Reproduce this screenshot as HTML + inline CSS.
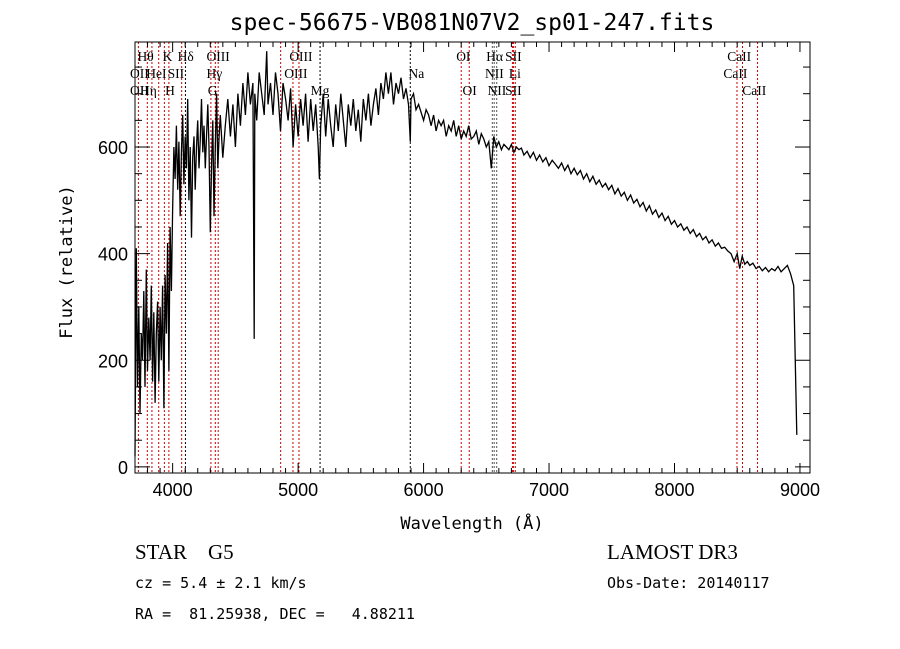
<!DOCTYPE html>
<html><head><meta charset="utf-8"><style>
body{margin:0;background:#fff;}
svg{display:block;}
text{font-family:"Liberation Serif",serif;fill:#000;white-space:pre;}
.mono{font-family:"DejaVu Sans Mono","Liberation Mono",monospace;}
</style></head><body>
<svg id="chart" width="900" height="649" viewBox="0 0 900 649" xmlns="http://www.w3.org/2000/svg" xml:space="preserve">
<rect width="900" height="649" fill="#fff"/>
<text class="mono" x="472" y="30" font-size="23" text-anchor="middle">spec-56675-VB081N07V2_sp01-247.fits</text>
<g id="lines"></g>
<g id="series"></g>
<g id="axes"></g>
<g id="labels" font-size="13.5"></g>
<text class="mono" x="472" y="529" font-size="17" text-anchor="middle">Wavelength (Å)</text>
<text class="mono" transform="translate(72,262) rotate(-90)" font-size="17" text-anchor="middle">Flux (relative)</text>
<text x="135" y="559" font-size="21">STAR    G5</text>
<text x="607" y="559" font-size="21">LAMOST DR3</text>
<text class="mono" x="135" y="588" font-size="15">cz = 5.4 ± 2.1 km/s</text>
<text class="mono" x="607" y="588" font-size="15">Obs-Date: 20140117</text>
<text class="mono" x="135" y="619" font-size="15">RA =  81.25938, DEC =   4.88211</text>
</svg>
<script>
const wavelengths=[3700,3710,3720,3730,3740,3750,3760,3770,3780,3790,3800,3810,3820,3830,3840,3850,3860,3870,3880,3890,3900,3910,3920,3930,3940,3950,3960,3970,3980,3990,4000,4010,4020,4030,4040,4050,4060,4070,4080,4090,4100,4110,4120,4130,4140,4150,4160,4170,4180,4190,4200,4210,4220,4230,4240,4250,4260,4270,4280,4290,4300,4310,4320,4330,4340,4350,4360,4370,4380,4400,4420,4440,4460,4480,4500,4520,4540,4560,4580,4600,4620,4640,4650,4655,4670,4690,4710,4730,4750,4760,4780,4800,4820,4840,4860,4880,4900,4920,4940,4960,4980,5000,5020,5040,5060,5080,5100,5120,5140,5160,5170,5180,5200,5220,5240,5260,5280,5300,5320,5340,5360,5380,5400,5420,5440,5460,5480,5500,5520,5540,5560,5580,5600,5620,5640,5660,5680,5700,5720,5740,5760,5780,5800,5820,5840,5860,5880,5894,5900,5920,5940,5960,6000,6020,6040,6060,6080,6100,6120,6140,6160,6180,6200,6220,6240,6260,6280,6300,6320,6340,6360,6380,6400,6420,6440,6460,6480,6500,6520,6540,6560,6580,6600,6620,6640,6660,6680,6700,6720,6740,6760,6780,6800,6825,6850,6875,6900,6925,6950,6975,7000,7025,7050,7075,7100,7125,7150,7175,7200,7225,7250,7275,7300,7325,7350,7375,7400,7425,7450,7475,7500,7525,7550,7575,7600,7625,7650,7675,7700,7725,7750,7775,7800,7825,7850,7875,7900,7925,7950,7975,8000,8025,8050,8075,8100,8125,8150,8175,8200,8225,8250,8275,8300,8325,8350,8375,8400,8425,8450,8475,8500,8520,8540,8560,8580,8600,8625,8650,8675,8700,8725,8750,8775,8800,8825,8850,8875,8900,8925,8950,8975,8990,9000];
const fluxValues=[20,410,150,300,100,250,200,330,150,370,180,280,200,340,160,290,120,250,310,160,300,200,340,110,360,250,420,180,450,330,480,600,540,640,520,610,470,590,660,530,620,560,690,500,600,430,580,620,520,600,650,560,610,690,590,640,560,620,680,600,440,560,650,470,600,700,560,620,660,580,640,690,620,680,600,700,640,720,660,740,680,720,240,700,650,740,700,660,780,680,720,660,740,700,630,720,690,650,710,600,680,620,690,640,700,610,690,630,680,600,540,640,700,620,690,640,600,680,630,700,650,600,680,640,690,630,670,610,690,650,700,640,680,710,660,720,690,740,700,740,680,720,700,730,690,710,680,610,690,700,670,680,650,670,660,640,660,630,650,640,650,620,640,630,650,620,640,615,630,620,640,615,620,630,605,625,615,600,610,560,620,600,610,595,605,600,595,605,590,600,595,598,585,592,580,590,575,585,572,580,565,575,568,560,570,556,566,550,560,548,556,540,550,535,545,530,538,525,532,520,528,512,522,508,515,500,510,495,502,488,496,480,490,474,482,468,476,462,470,455,462,450,456,444,450,438,445,432,438,426,432,420,426,414,420,410,412,405,400,385,400,372,395,380,385,378,382,372,376,368,374,366,372,368,376,366,372,378,362,340,60];
const lineWaves=[3727,3798,3835,3889,3934,3970,4072,4102,4305,4340,4363,4861,4959,5007,5175,5894,6300,6364,6548,6563,6583,6708,6716,6731,8498,8542,8662];
const lineColors=['#c00','#c00','#c00','#c00','#c00','#c00','#c00','#000','#c00','#c00','#c00','#c00','#c00','#c00','#000','#000','#c00','#c00','#555','#555','#555','#c00','#c00','#c00','#c00','#c00','#c00'];
const xTicks=[4000,5000,6000,7000,8000,9000];
const yTicks=[0,200,400,600];
const lineLabels=[["Hθ",3720,1],["K",3920,1],["Hδ",4040,1],["OIII",4270,1],["OIII",4930,1],["OI",6260,1],["Hα",6500,1],["SII",6650,1],["CaII",8420,1],
["OII",3660,2],["HeI",3790,2],["SII",3960,2],["Hγ",4270,2],["OIII",4890,2],["Na",5880,2],["NII",6490,2],["Li",6680,2],["CaII",8390,2],
["OII",3660,3],["Hη",3740,3],["H",3940,3],["G",4280,3],["Mg",5100,3],["OI",6310,3],["NII",6510,3],["SII",6650,3],["CaII",8540,3]];
const X0=135,X1=810,Y0=42,Y1=473;
const xMin=3700,xMax=9080,yMin=-11.5,yMax=797;
const xs=w=>X0+(w-xMin)/(xMax-xMin)*(X1-X0);
const ys=f=>Y1-(f-yMin)/(yMax-yMin)*(Y1-Y0);
const NS='http://www.w3.org/2000/svg';
function mk(tag,attrs,parent){const e=document.createElementNS(NS,tag);for(const k in attrs)e.setAttribute(k,attrs[k]);parent.appendChild(e);return e;}
const gL=document.getElementById('lines');
lineWaves.forEach((w,i)=>{
 const l=mk('line',{x1:xs(w),x2:xs(w),y1:Y0,y2:Y1,stroke:lineColors[i],'stroke-width':1,'stroke-dasharray':'2,2'},gL);
 
 
});
const gS=document.getElementById('series');
let d='';wavelengths.forEach((w,i)=>{d+=(i?'L':'M')+xs(w).toFixed(1)+','+ys(fluxValues[i]).toFixed(1);});
const p=mk('path',{d:d,fill:'none',stroke:'#000','stroke-width':1.3},gS);


const gA=document.getElementById('axes');
const fr=mk('rect',{x:X0,y:Y0,width:X1-X0,height:Y1-Y0,fill:'none',stroke:'#000','stroke-width':1},gA);


for(let w=3700;w<=9080;w+=100){const big=w%1000===0;const L=big?10:5;
 mk('line',{x1:xs(w),x2:xs(w),y1:Y1,y2:Y1-L,stroke:'#000'},gA);
 mk('line',{x1:xs(w),x2:xs(w),y1:Y0,y2:Y0+L,stroke:'#000'},gA);}
for(let f=0;f<=797;f+=50){const big=f%200===0;const L=big?15:7;
 mk('line',{x1:X0,x2:X0+L,y1:ys(f),y2:ys(f),stroke:'#000'},gA);
 mk('line',{x1:X1,x2:X1-L,y1:ys(f),y2:ys(f),stroke:'#000'},gA);}
xTicks.forEach(v=>{const t=mk('text',{x:xs(v),y:Y1+23,'font-size':18,'text-anchor':'middle',style:'font-family:"Liberation Sans",sans-serif'},gA);t.textContent=v;
 
 });
yTicks.forEach(v=>{const t=mk('text',{x:X0-7,y:ys(v)+7,'font-size':18,'text-anchor':'end',style:'font-family:"Liberation Sans",sans-serif'},gA);t.textContent=v;
 
 });
const gT=document.getElementById('labels');
const rowY=[0,61,78,95];
lineLabels.forEach(a=>{const t=mk('text',{x:xs(a[1]),y:rowY[a[2]]},gT);t.textContent=a[0];
 
 });
</script>
</body></html>
